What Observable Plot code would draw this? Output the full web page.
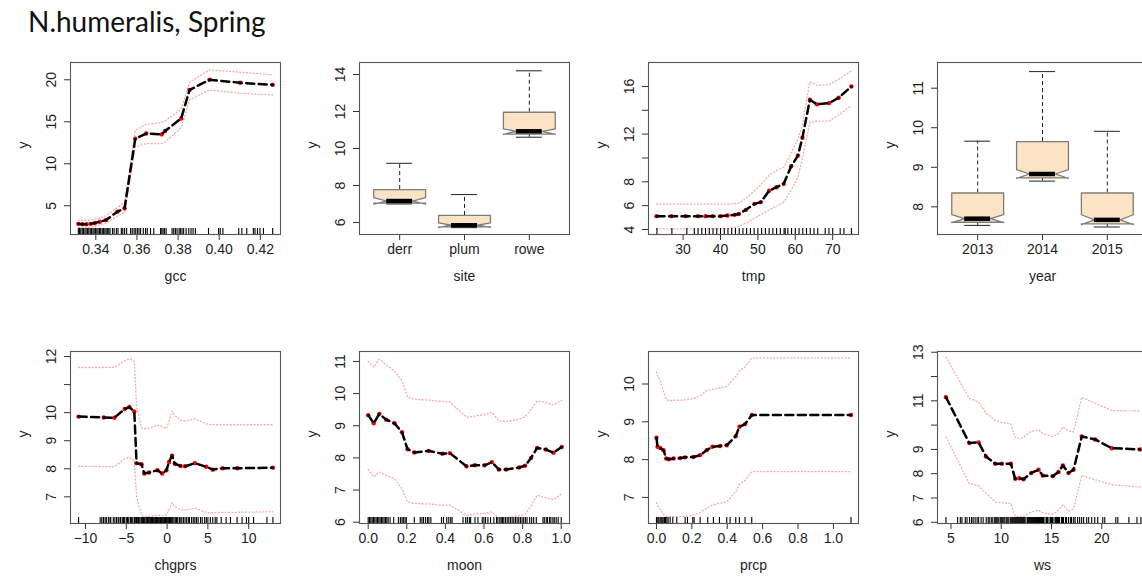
<!DOCTYPE html>
<html>
<head>
<meta charset="utf-8">
<script src="https://cdn.jsdelivr.net/npm/d3@7"></script>
<script src="https://cdn.jsdelivr.net/npm/@observablehq/plot@0.6"></script>
<style>
  html, body { margin: 0; padding: 0; background: #fff; overflow: hidden; }
  #page { position: relative; width: 1142px; height: 578px; overflow: hidden; background: #fff; }
  #title { position: absolute; left: 28px; top: 4px; font-family: Lato, "Open Sans", sans-serif; font-size: 28px; color: #111; white-space: nowrap; }
  #page svg { position: absolute; }
</style>
</head>
<body>
<div id="page"><div id="title">N.humeralis, Spring</div></div>
<script>
// ---- gcc ----
const gccX  = [0.3315, 0.3335, 0.3355, 0.3375, 0.3395, 0.342, 0.345, 0.3505, 0.354, 0.3592, 0.3645, 0.372, 0.3737, 0.3815, 0.3856, 0.3953, 0.4102, 0.426];
const gccY  = [2.85, 2.8, 2.8, 2.85, 2.95, 3.1, 3.3, 4.3, 4.7, 13.0, 13.6, 13.5, 13.9, 15.4, 18.8, 20.0, 19.65, 19.4];
const gccHi = [3.3, 3.25, 3.25, 3.3, 3.4, 3.55, 3.8, 4.8, 5.3, 14.0, 14.7, 14.9, 15.1, 16.5, 19.7, 21.2, 20.9, 20.6];
const gccLo = [2.45, 2.4, 2.4, 2.45, 2.55, 2.7, 2.9, 3.8, 4.2, 12.0, 12.4, 12.4, 12.6, 14.3, 17.6, 18.8, 18.4, 18.2];
const gccRug = [0.3315, 0.3321, 0.3327, 0.3334, 0.334, 0.3347, 0.3353, 0.336, 0.3366, 0.3373, 0.3379, 0.3386, 0.3392, 0.3398, 0.3405, 0.3411, 0.3418, 0.3424, 0.3431, 0.3437, 0.3444, 0.345, 0.3456, 0.3463, 0.3469, 0.3481, 0.3489, 0.35, 0.3508, 0.3524, 0.3531, 0.354, 0.355, 0.3569, 0.3577, 0.3586, 0.3594, 0.3602, 0.361, 0.3618, 0.3631, 0.3642, 0.365, 0.3666, 0.3682, 0.3715, 0.3721, 0.3727, 0.3734, 0.3742, 0.3771, 0.3779, 0.3787, 0.3795, 0.3805, 0.3811, 0.3819, 0.3827, 0.3839, 0.3852, 0.3863, 0.3873, 0.3884, 0.3948, 0.3997, 0.4005, 0.4018, 0.4095, 0.411, 0.4134, 0.4166, 0.4174, 0.4186, 0.4198, 0.4215, 0.426];

// ---- site ----
const siteNames       = ["derr", "plum", "rowe"];
const siteLowWhisker  = [7.0, 5.72, 10.61];
const siteLowHinge    = [7.05, 5.76, 10.78];
const siteNotchLow    = [6.99, 5.73, 10.77];
const siteMedian      = [7.16, 5.85, 10.93];
const siteNotchHigh   = [7.34, 5.98, 11.06];
const siteHighHinge   = [7.78, 6.38, 11.96];
const siteHighWhisker = [9.2, 7.51, 14.2];

// ---- tmp ----
const tmpX  = [22.9, 26.9, 30.7, 34, 36, 37.9, 40, 41.9, 43.8, 44.9, 46.8, 49.1, 50.8, 53, 55, 56.9, 58.9, 60.7, 61.9, 63.9, 65.8, 69, 71.6, 75];
const tmpY  = [5.12, 5.12, 5.12, 5.12, 5.12, 5.12, 5.12, 5.17, 5.23, 5.3, 5.65, 6.15, 6.3, 7.25, 7.55, 7.83, 9.3, 10.2, 11.7, 14.88, 14.5, 14.6, 15.05, 16.0];
const tmpHi = [6.12, 6.12, 6.12, 6.12, 6.12, 6.12, 6.12, 6.13, 6.17, 6.22, 6.6, 7.25, 7.75, 8.55, 8.95, 9.2, 10.4, 11.6, 12.8, 16.4, 16.1, 16.15, 16.6, 17.3];
const tmpLo = [4.05, 4.05, 4.05, 4.05, 4.05, 4.05, 4.05, 4.08, 4.18, 4.25, 4.55, 4.95, 5.25, 5.65, 5.95, 6.3, 7.3, 8.4, 10.0, 13.0, 13.1, 13.1, 13.6, 14.4];
const tmpRug = [23, 27, 31, 33, 34, 35, 36, 37, 38, 39, 40, 41, 42, 43, 44, 45, 46, 47, 48, 49, 50, 51, 52, 53, 54, 55, 56, 57, 57.3, 58, 59, 60, 61, 62, 63, 64, 65, 66, 68, 69, 70, 72, 73, 75];
const tmpYTicks  = [4, 6, 8, 10, 12, 14, 16];
const tmpYLabels = ["4", "6", "8", "", "12", "", "16"];

// ---- year ----
const yearNames       = ["2013", "2014", "2015"];
const yearLowWhisker  = [7.53, 8.65, 7.49];
const yearLowHinge    = [7.61, 8.73, 7.57];
const yearNotchLow    = [7.6, 8.72, 7.55];
const yearMedian      = [7.7, 8.83, 7.67];
const yearNotchHigh   = [7.8, 8.94, 7.8];
const yearHighHinge   = [8.35, 9.65, 8.35];
const yearHighWhisker = [9.66, 11.42, 9.91];

// ---- chgprs ----
const chgX  = [-10.85, -7.76, -6.46, -5.2, -4.63, -4.02, -3.74, -3.13, -2.8, -2.2, -1.18, -0.6, -0.08, 0.24, 0.61, 0.93, 1.67, 2.2, 3.41, 4.8, 5.6, 6.83, 8.62, 12.97];
const chgY  = [9.86, 9.83, 9.82, 10.13, 10.2, 10.04, 8.2, 8.16, 7.83, 7.87, 7.95, 7.83, 7.95, 8.24, 8.47, 8.18, 8.1, 8.09, 8.2, 8.07, 7.97, 8.02, 8.02, 8.04];
const chgHi = [11.61, 11.61, 11.62, 11.85, 11.92, 11.83, 10.2, 9.45, 9.43, 9.45, 9.55, 9.5, 9.43, 9.7, 10.06, 9.9, 9.72, 9.7, 9.78, 9.6, 9.57, 9.57, 9.57, 9.57];
const chgLo = [8.09, 8.08, 8.07, 8.35, 8.41, 8.3, 7.0, 6.35, 6.3, 6.3, 6.35, 6.33, 6.35, 6.55, 6.79, 6.65, 6.55, 6.53, 6.6, 6.45, 6.43, 6.45, 6.45, 6.47];
const chgRug = [-10.85, -8.2, -8.0, -7.8, -7.6, -7.45, -7.2, -7.0, -6.9, -6.6, -6.4, -6.2, -6.0, -5.9, -5.7, -5.5, -5.35, -5.2, -5.0, -4.85, -4.7, -4.5, -4.35, -4.2, -4.0, -3.9, -3.75, -3.6, -3.5, -3.35, -3.2, -3.1, -3.0, -2.9, -2.75, -2.6, -2.5, -2.4, -2.3, -2.2, -2.1, -2.0, -1.9, -1.8, -1.7, -1.6, -1.5, -1.4, -1.3, -1.2, -1.1, -1.0, -0.9, -0.8, -0.7, -0.6, -0.5, -0.4, -0.3, -0.2, -0.1, 0.0, 0.1, 0.2, 0.3, 0.4, 0.5, 0.6, 0.7, 0.85, 1.0, 1.15, 1.3, 1.5, 1.6, 1.8, 2.0, 2.2, 2.4, 2.6, 2.75, 3.0, 3.2, 3.4, 3.6, 3.8, 4.1, 4.3, 4.6, 4.8, 5.0, 5.3, 5.6, 5.9, 6.1, 6.63, 7.24, 7.77, 8.58, 9.19, 9.72, 10.0, 10.6, 12.24, 12.97];
const chgYTicks  = [7, 8, 9, 10, 11, 12];
const chgYLabels = ["7", "8", "9", "10", "", "12"];

// ---- moon ----
const moonX  = [0, 0.029, 0.058, 0.093, 0.136, 0.175, 0.204, 0.239, 0.313, 0.385, 0.423, 0.509, 0.553, 0.603, 0.641, 0.677, 0.715, 0.782, 0.813, 0.844, 0.875, 0.921, 0.96, 1.003];
const moonY  = [9.33, 9.08, 9.37, 9.19, 9.08, 8.8, 8.27, 8.17, 8.22, 8.13, 8.15, 7.74, 7.77, 7.77, 7.87, 7.64, 7.64, 7.7, 7.76, 8.0, 8.31, 8.26, 8.16, 8.34];
const moonHi = [11.0, 10.82, 11.07, 10.9, 10.7, 10.4, 9.89, 9.82, 9.8, 9.75, 9.74, 9.27, 9.3, 9.35, 9.42, 9.15, 9.13, 9.2, 9.28, 9.5, 9.77, 9.72, 9.65, 9.79];
const moonLo = [7.64, 7.41, 7.56, 7.45, 7.35, 7.05, 6.63, 6.58, 6.57, 6.53, 6.53, 6.22, 6.25, 6.28, 6.32, 6.13, 6.13, 6.2, 6.25, 6.5, 6.84, 6.76, 6.7, 6.89];
const moonRug = [0, 0.0069, 0.0137, 0.0206, 0.0275, 0.0344, 0.0412, 0.0481, 0.055, 0.0619, 0.0687, 0.0756, 0.0825, 0.0893, 0.0962, 0.1031, 0.1134, 0.1323, 0.1564, 0.1667, 0.1753, 0.1821, 0.1907, 0.1976, 0.2388, 0.2698, 0.2784, 0.2869, 0.2973, 0.3076, 0.3144, 0.3247, 0.3797, 0.39, 0.4072, 0.4175, 0.4278, 0.4347, 0.4914, 0.5052, 0.5137, 0.5241, 0.5309, 0.5533, 0.5687, 0.5911, 0.5997, 0.6082, 0.6203, 0.634, 0.6512, 0.6649, 0.6718, 0.6821, 0.689, 0.6959, 0.7027, 0.7113, 0.7199, 0.7285, 0.7371, 0.7457, 0.7543, 0.7629, 0.7715, 0.7801, 0.7887, 0.7973, 0.8058, 0.8144, 0.823, 0.8368, 0.8471, 0.8574, 0.8711, 0.9055, 0.9124, 0.9227, 0.9296, 0.9399, 0.9467, 0.957, 0.9639, 0.9742, 0.9845, 1.0];

// ---- prcp ----
const prcpX  = [0, 0.006, 0.021, 0.04, 0.055, 0.07, 0.096, 0.134, 0.162, 0.209, 0.247, 0.284, 0.316, 0.36, 0.397, 0.448, 0.469, 0.501, 0.539, 1.1];
const prcpY  = [8.58, 8.34, 8.31, 8.25, 8.03, 8.01, 8.03, 8.04, 8.06, 8.07, 8.12, 8.25, 8.34, 8.36, 8.38, 8.62, 8.87, 8.94, 9.18, 9.18];
const prcpHi = [10.32, 10.2, 10.1, 9.8, 9.6, 9.56, 9.57, 9.57, 9.58, 9.61, 9.7, 9.82, 9.86, 9.9, 9.94, 10.2, 10.35, 10.45, 10.69, 10.69];
const prcpLo = [6.86, 6.78, 6.68, 6.55, 6.5, 6.49, 6.49, 6.49, 6.5, 6.53, 6.6, 6.72, 6.8, 6.85, 6.88, 7.15, 7.35, 7.45, 7.68, 7.68];
const prcpRug = [0, 0.0075, 0.0132, 0.0207, 0.0264, 0.032, 0.0377, 0.0452, 0.0508, 0.0584, 0.0659, 0.0772, 0.0923, 0.1149, 0.162, 0.1751, 0.2053, 0.2128, 0.2467, 0.29, 0.322, 0.3559, 0.3974, 0.4162, 0.4482, 0.4689, 0.5009, 0.5386, 1.0998];

// ---- ws ----
const wsX  = [4.5, 6.82, 7.75, 8.48, 9.4, 10.07, 10.96, 11.39, 11.79, 12.22, 12.98, 13.71, 14.14, 15.13, 15.7, 16.13, 16.69, 17.19, 18.01, 19.34, 21.0, 23.8];
const wsY  = [11.15, 9.26, 9.29, 8.71, 8.41, 8.41, 8.41, 7.79, 7.81, 7.77, 8.03, 8.16, 7.92, 7.9, 8.07, 8.34, 8.03, 8.16, 9.53, 9.41, 9.05, 9.0];
const wsHi = [12.8, 11.1, 10.95, 10.5, 10.2, 10.1, 10.05, 9.5, 9.45, 9.5, 9.75, 9.8, 9.65, 9.53, 9.65, 9.92, 9.75, 9.72, 11.15, 10.9, 10.6, 10.58];
const wsLo = [9.51, 7.6, 7.5, 7.2, 6.84, 6.8, 6.77, 6.25, 6.22, 6.25, 6.42, 6.5, 6.38, 6.33, 6.5, 6.72, 6.45, 6.55, 7.93, 7.75, 7.55, 7.45];
const wsRug = [4.5, 5.66, 5.93, 6.09, 6.42, 6.59, 6.85, 7.05, 7.2, 7.4, 7.6, 7.75, 8.0, 8.2, 8.5, 8.7, 8.8, 9.0, 9.1, 9.3, 9.4, 9.5, 9.6, 9.75, 9.9, 10.0, 10.1, 10.2, 10.35, 10.5, 10.6, 10.75, 10.9, 11.0, 11.1, 11.2, 11.3, 11.4, 11.5, 11.6, 11.7, 11.8, 11.9, 12.0, 12.1, 12.2, 12.3, 12.45, 12.6, 12.7, 12.8, 12.9, 13.0, 13.1, 13.2, 13.3, 13.4, 13.5, 13.6, 13.7, 13.8, 13.9, 14.0, 14.1, 14.2, 14.35, 14.5, 14.6, 14.75, 14.9, 15.0, 15.1, 15.25, 15.4, 15.5, 15.6, 15.7, 15.8, 16.0, 16.1, 16.2, 16.4, 16.5, 16.7, 16.9, 17.0, 17.2, 17.35, 17.6, 17.8, 18.0, 18.2, 18.5, 18.7, 19.0, 19.3, 19.6, 20.1, 20.3, 21.4, 21.6, 22.7, 23.5, 23.9];
const wsYTicks  = [6, 7, 8, 9, 10, 11, 12, 13];
const wsYLabels = ["6", "7", "8", "9", "", "11", "", "13"];

// ---- drawing ----
const FONT = "'Liberation Sans', Arial, sans-serif";
const PANEL_W = 210, PANEL_H = 172;
const colLeft = [0, 289, 578, 867];
const rowTop = [50, 330];
const rowMarginTop = [12, 21];
const rowHeight = [240, 248];
const page = document.getElementById("page");

function labeler(ticks, labels) {
  return d => labels ? labels[ticks.indexOf(d)] : String(d);
}

function panel(row, col, {xDomain, yDomain, xTicks, xFormat, yTicks, yFormat, xName, marks}) {
  const h = rowHeight[row];
  const mt = rowMarginTop[row];
  const svg = Plot.plot({
    width: 70 + PANEL_W + 10,
    height: h,
    marginLeft: 70,
    marginRight: 10,
    marginTop: mt,
    marginBottom: h - mt - PANEL_H,
    x: {domain: xDomain},
    y: {domain: yDomain},
    style: {fontFamily: FONT, fontSize: "14px", color: "#1e1e1e", background: "transparent", overflow: "visible"},
    marks: [
      ...marks,
      Plot.axisX({ticks: xTicks, tickFormat: xFormat, tickSize: 6, tickPadding: 4, label: null, stroke: "#333"}),
      Plot.axisY({ticks: yTicks, tickFormat: yFormat, tickSize: 6, tickPadding: 9, tickRotate: -90, label: null, stroke: "#333"}),
      Plot.text([xName], {frameAnchor: "bottom", dy: 46, text: d => d, fill: "#1e1e1e"}),
      Plot.text(["y"], {frameAnchor: "left", dx: -47, rotate: -90, text: d => d, fill: "#1e1e1e"}),
      Plot.frame({stroke: "#555", strokeWidth: 1.1})
    ]
  });
  svg.style.left = colLeft[col] + "px";
  svg.style.top = rowTop[row] + "px";
  page.appendChild(svg);
}

// partial dependence curve with confidence band, points and rug
function curveMarks(xs, ys, his, los, rug) {
  const rows = xs.map((x, i) => ({x, y: ys[i], hi: his[i], lo: los[i]}));
  const band = {stroke: "#f6aaaa", strokeWidth: 1.3, strokeDasharray: "1,2.4"};
  return [
    Plot.line(rows, {x: "x", y: "hi", ...band}),
    Plot.line(rows, {x: "x", y: "lo", ...band}),
    Plot.ruleX(rug, {x: d => d, insetTop: PANEL_H - 6, stroke: "#000", strokeWidth: 1.1}),
    Plot.dot(rows, {x: "x", y: "y", r: 2.2, fill: "#f00", stroke: "none"}),
    Plot.line(rows, {x: "x", y: "y", stroke: "#000", strokeWidth: 2.5, strokeDasharray: "8,4.5"})
  ];
}

// notched box plots, one per category at x = 1, 2, 3
function boxMarks(lw, lh, nlo, med, nhi, uh, uw) {
  const stats = med.map((m, i) => ({c: i + 1, lw: lw[i], lh: lh[i], nlo: nlo[i], med: m, nhi: nhi[i], uh: uh[i], uw: uw[i]}));
  const w = 0.4;
  const outline = stats.flatMap(s => [
    [s.c - w, s.lh], [s.c + w, s.lh], [s.c + w, s.nlo], [s.c + w / 2, s.med], [s.c + w, s.nhi],
    [s.c + w, s.uh], [s.c - w, s.uh], [s.c - w, s.nhi], [s.c - w / 2, s.med], [s.c - w, s.nlo], [s.c - w, s.lh]
  ].map(([x, y]) => ({g: s.c, x, y})));
  return [
    Plot.ruleX(stats, {x: "c", y1: "uh", y2: "uw", stroke: "#222", strokeDasharray: "4,3"}),
    Plot.ruleX(stats, {x: "c", y1: "lw", y2: "lh", stroke: "#222", strokeDasharray: "4,3"}),
    Plot.ruleY(stats, {y: "uw", x1: d => d.c - w / 2, x2: d => d.c + w / 2, stroke: "#222"}),
    Plot.ruleY(stats, {y: "lw", x1: d => d.c - w / 2, x2: d => d.c + w / 2, stroke: "#222"}),
    Plot.line(outline, {x: "x", y: "y", z: "g", fill: "#fde3c5", stroke: "#7d7d78", strokeWidth: 1.3}),
    Plot.ruleY(stats, {y: "med", x1: d => d.c - w / 2, x2: d => d.c + w / 2, stroke: "#000", strokeWidth: 4.5})
  ];
}

panel(0, 0, {
  xDomain: [0.3277, 0.4298], yDomain: [1.58, 22.06],
  xTicks: [0.34, 0.36, 0.38, 0.40, 0.42], xFormat: d3.format(".2f"),
  yTicks: [5, 10, 15, 20], yFormat: d => String(d),
  xName: "gcc", marks: curveMarks(gccX, gccY, gccHi, gccLo, gccRug)
});

panel(0, 1, {
  xDomain: [0.38, 3.62], yDomain: [5.35, 14.65],
  xTicks: [1, 2, 3], xFormat: d => siteNames[d - 1],
  yTicks: [6, 8, 10, 12, 14], yFormat: d => String(d),
  xName: "site",
  marks: boxMarks(siteLowWhisker, siteLowHinge, siteNotchLow, siteMedian, siteNotchHigh, siteHighHinge, siteHighWhisker)
});

panel(0, 2, {
  xDomain: [20.75, 76.9], yDomain: [3.58, 18.01],
  xTicks: [30, 40, 50, 60, 70], xFormat: d => String(d),
  yTicks: tmpYTicks, yFormat: labeler(tmpYTicks, tmpYLabels),
  xName: "tmp", marks: curveMarks(tmpX, tmpY, tmpHi, tmpLo, tmpRug)
});

panel(0, 3, {
  xDomain: [0.38, 3.62], yDomain: [7.30, 11.65],
  xTicks: [1, 2, 3], xFormat: d => yearNames[d - 1],
  yTicks: [8, 9, 10, 11], yFormat: d => String(d),
  xName: "year",
  marks: boxMarks(yearLowWhisker, yearLowHinge, yearNotchLow, yearMedian, yearNotchHigh, yearHighHinge, yearHighWhisker)
});

panel(1, 0, {
  xDomain: [-11.84, 13.9], yDomain: [6.05, 12.18],
  xTicks: [-10, -5, 0, 5, 10], xFormat: d => String(d).replace("-", "\u2212"),
  yTicks: chgYTicks, yFormat: labeler(chgYTicks, chgYLabels),
  xName: "chgprs", marks: curveMarks(chgX, chgY, chgHi, chgLo, chgRug)
});

panel(1, 1, {
  xDomain: [-0.045, 1.043], yDomain: [5.96, 11.31],
  xTicks: [0, 0.2, 0.4, 0.6, 0.8, 1.0], xFormat: d3.format(".1f"),
  yTicks: [6, 7, 8, 9, 10, 11], yFormat: d => String(d),
  xName: "moon", marks: curveMarks(moonX, moonY, moonHi, moonLo, moonRug)
});

panel(1, 2, {
  xDomain: [-0.045, 1.142], yDomain: [6.31, 10.86],
  xTicks: [0, 0.2, 0.4, 0.6, 0.8, 1.0], xFormat: d3.format(".1f"),
  yTicks: [7, 8, 9, 10], yFormat: d => String(d),
  xName: "prcp", marks: curveMarks(prcpX, prcpY, prcpHi, prcpLo, prcpRug)
});

panel(1, 3, {
  xDomain: [3.66, 24.55], yDomain: [5.95, 13.03],
  xTicks: [5, 10, 15, 20], xFormat: d => String(d),
  yTicks: wsYTicks, yFormat: labeler(wsYTicks, wsYLabels),
  xName: "ws", marks: curveMarks(wsX, wsY, wsHi, wsLo, wsRug)
});
</script>
</body>
</html>
